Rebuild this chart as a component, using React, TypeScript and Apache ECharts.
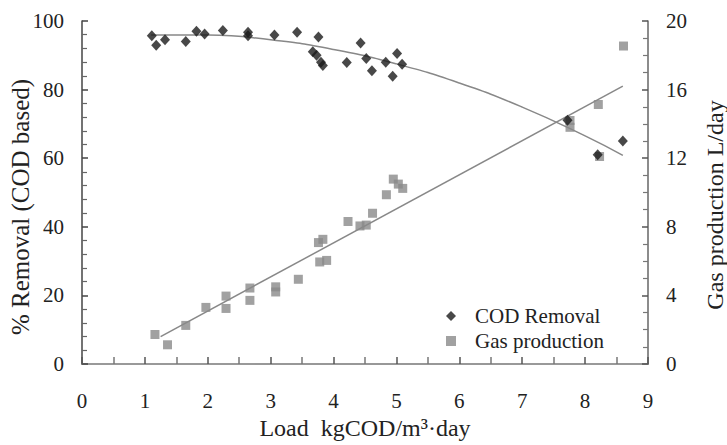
import React, { useEffect, useRef } from "react";
import * as echarts from "echarts";

const xTicks = [0, 1, 2, 3, 4, 5, 6, 7, 8, 9];
const codX = [1.11, 1.18, 1.32, 1.65, 1.82, 1.95, 2.24, 2.64, 2.64, 3.06, 3.42, 3.76, 3.67, 3.73, 3.8, 3.83, 4.21, 4.43, 4.52, 4.61, 4.83, 5.01, 4.94, 5.09, 7.72, 8.2, 8.6];
const codY = [95.7, 92.9, 94.5, 94.0, 97.0, 96.2, 97.2, 96.7, 95.7, 95.9, 96.7, 95.3, 91.0, 90.0, 88.0, 87.0, 87.9, 93.6, 89.1, 85.5, 88.0, 90.5, 83.9, 87.4, 71.1, 61.0, 65.0];
const gasX = [1.16, 1.36, 1.65, 1.97, 2.29, 2.29, 2.67, 2.67, 3.08, 3.08, 3.44, 3.76, 3.83, 3.78, 3.89, 4.23, 4.42, 4.52, 4.62, 4.84, 4.95, 5.03, 5.1, 7.76, 7.76, 8.21, 8.23, 8.61];
const gasY = [1.72, 1.12, 2.25, 3.3, 3.96, 3.24, 4.43, 3.71, 4.2, 4.5, 4.94, 7.08, 7.27, 5.95, 6.04, 8.31, 8.05, 8.1, 8.79, 9.87, 10.78, 10.49, 10.24, 14.2, 13.8, 15.13, 12.1, 18.54];
const codFitX = [1.1, 2, 3, 4, 5, 6, 7, 8, 8.6];
const codFitY = [95.9, 95.9, 94.5, 91.7, 87.5, 81.9, 74.9, 66.5, 60.8];
const gasFitX = [1.25, 8.6];
const gasFitY = [1.6, 16.2];
const leftTitle = "% Removal (COD based)";
const rightTitle = "Gas production L/day";
const xTitle = "Load  kgCOD/m³·day";

const FONT = "'Liberation Serif', 'Times New Roman', Times, serif";

export default function App() {
  const ref = useRef<HTMLDivElement>(null);
  useEffect(() => {
    if (!ref.current) return;
    const chart = echarts.init(ref.current, undefined, { renderer: "svg" });
    const zip = (xs: number[], ys: number[]) => xs.map((x, i) => [x, ys[i]]);
    const axisText = { fontFamily: FONT, fontSize: 21, color: "#222" };
    const nameText = { fontFamily: FONT, fontSize: 24, color: "#222" };
    chart.setOption({
      animation: false,
      backgroundColor: "#fff",
      textStyle: { fontFamily: FONT },
      grid: { left: 82, right: 79, top: 21, bottom: 72 },
      graphic: [
        {
          type: "text",
          x: 20,
          y: 207,
          rotation: Math.PI / 2,
          style: { text: leftTitle, fontFamily: FONT, fontSize: 25, fill: "#222", align: "center", verticalAlign: "middle" },
        },
        {
          type: "text",
          x: 715,
          y: 205,
          rotation: Math.PI / 2,
          style: { text: rightTitle, fontFamily: FONT, fontSize: 24, fill: "#222", align: "center", verticalAlign: "middle" },
        },
      ],
      legend: {
        orient: "vertical",
        left: 441,
        top: 300,
        itemWidth: 10,
        itemHeight: 10,
        itemGap: 3,
        data: [
          { name: "COD Removal", icon: "diamond" },
          { name: "Gas production", icon: "rect" },
        ],
        textStyle: { fontFamily: FONT, fontSize: 21, color: "#222", lineHeight: 22, padding: [0, 0, 0, 14] },
      },
      xAxis: [
        {
          type: "value",
          min: 0,
          max: 9,
          interval: 1,
          name: xTitle,
          nameLocation: "middle",
          nameGap: 52,
          nameTextStyle: { ...nameText },
          axisLine: { show: true, onZero: false, lineStyle: { color: "#666", width: 2 } },
          axisTick: { show: true, inside: true, length: 7, lineStyle: { color: "#555", width: 1.5 } },
          minorTick: { show: true, splitNumber: 2, length: 7, lineStyle: { color: "#777", width: 1.5 } },
          axisLabel: { ...axisText, margin: 26, formatter: (v: number) => (xTicks.includes(v) ? String(v) : "") },
          splitLine: { show: false },
        },
        {
          type: "value",
          position: "top",
          min: 0,
          max: 9,
          axisLine: { show: true, lineStyle: { color: "#aaa", width: 1.5 } },
          axisTick: { show: false },
          axisLabel: { show: false },
          splitLine: { show: false },
        },
      ],
      yAxis: [
        {
          type: "value",
          min: 0,
          max: 100,
          interval: 20,
          axisLine: { show: true, onZero: false, lineStyle: { color: "#444", width: 1.5 } },
          axisTick: { show: true, inside: true, length: 6, lineStyle: { color: "#444", width: 1.5 } },
          minorTick: { show: true, splitNumber: 5, length: 5, lineStyle: { color: "#666", width: 1.2 } },
          axisLabel: { ...axisText, margin: 18 },
          splitLine: { show: false },
        },
        {
          type: "value",
          min: 0,
          max: 20,
          interval: 4,
          position: "right",
          axisLine: { show: true, onZero: false, lineStyle: { color: "#666", width: 1.5 } },
          axisTick: { show: true, inside: true, length: 6, lineStyle: { color: "#555", width: 1.5 } },
          minorTick: { show: true, splitNumber: 4, length: 5, lineStyle: { color: "#777", width: 1.2 } },
          axisLabel: { ...axisText, margin: 18 },
          splitLine: { show: false },
        },
      ],
      series: [
        {
          name: "COD fit",
          type: "line",
          smooth: true,
          showSymbol: false,
          symbol: "none",
          data: zip(codFitX, codFitY),
          lineStyle: { color: "#888", width: 1.5 },
          z: 1,
        },
        {
          name: "Gas fit",
          type: "line",
          yAxisIndex: 1,
          showSymbol: false,
          symbol: "none",
          data: zip(gasFitX, gasFitY),
          lineStyle: { color: "#888", width: 1.5 },
          z: 1,
        },
        {
          name: "COD Removal",
          type: "scatter",
          symbol: "diamond",
          symbolSize: [10, 11],
          data: zip(codX, codY),
          itemStyle: { color: "#1a1a1a" },
          z: 3,
        },
        {
          name: "Gas production",
          type: "scatter",
          yAxisIndex: 1,
          symbol: "rect",
          symbolSize: 9,
          data: zip(gasX, gasY),
          itemStyle: { color: "#8a8a8a" },
          z: 2,
        },
      ],
    });
    return () => chart.dispose();
  }, []);
  return <div ref={ref} style={{ width: 727, height: 445, position: "absolute", left: 0, top: 0 }} />;
}
